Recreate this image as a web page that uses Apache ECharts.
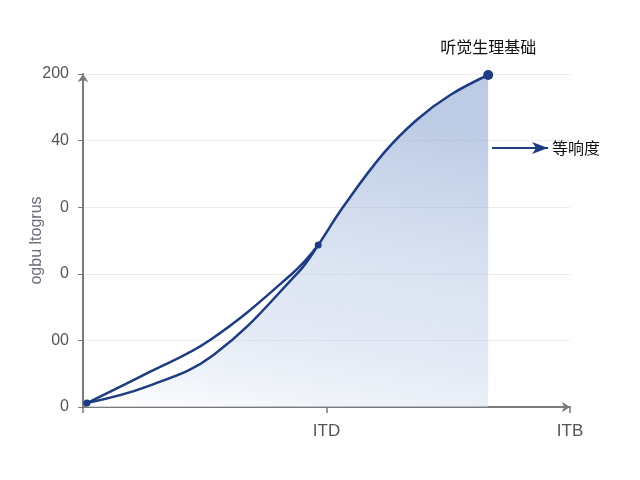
<!DOCTYPE html>
<html>
<head>
<meta charset="utf-8">
<script src="https://cdn.jsdelivr.net/npm/echarts@6/dist/echarts.min.js"></script>
<style>
  html, body { margin: 0; padding: 0; background: #fff; }
  #main { width: 640px; height: 480px; }
</style>
</head>
<body>
<div id="main"></div>
<script>
// data (x: 0..100 with ITD = 50, ITB = 100)
const yTickLabels = { 0: '0', 40: '00', 80: '0', 120: '0', 160: '40', 200: '200' };
const xTickLabels = { 50: 'ITD', 100: 'ITB' };
const yName = 'ogbu ltogrus';
const topLabel = '听觉生理基础';
const arrowLabel = '等响度';
const arrowY = 155.6;
const arrowX = [84, 95.5];

// lower branch + main rise (filled)
const mainCurve = [
  [0.8, 2.4], [13.1, 12.2], [26.8, 31.2], [44.1, 80.5], [48.3, 97.3],
  [53.4, 120.1], [61.7, 152.3], [68.5, 172.4], [75.4, 187.4], [83.2, 199.4]
];
// upper branch, origin to ITD marker
const upperCurve = [
  [0.8, 2.4], [13.1, 20.2], [26.1, 40.2], [43.1, 80.5], [48.3, 97.3]
];
const midIndex = 4;

const navy = '#1d3c82';
const chart = echarts.init(document.getElementById('main'));

chart.setOption({
  animation: false,
  grid: { left: 83, right: 70, top: 74, bottom: 73 },
  xAxis: {
    type: 'value',
    min: 0,
    max: 100,
    interval: 50,
    axisLine: { lineStyle: { color: '#7a7a7a', width: 2 }, symbol: ['none', 'arrow'], symbolSize: [8, 8] },
    axisTick: { show: true, length: 6, lineStyle: { color: '#7a7a7a', width: 1.5 } },
    axisLabel: {
      margin: 16,
      color: '#555',
      fontSize: 17,
      fontFamily: 'Liberation Sans',
      formatter: v => xTickLabels[v] || ''
    },
    splitLine: { show: false }
  },
  yAxis: {
    type: 'value',
    min: 0,
    max: 200,
    interval: 40,
    name: yName,
    nameLocation: 'middle',
    nameGap: 38,
    nameMoveOverlap: false,
    nameRotate: 90,
    nameTextStyle: { color: '#6a6a7a', fontSize: 16, fontFamily: 'Liberation Sans' },
    axisLine: { show: true, lineStyle: { color: '#7a7a7a', width: 2 }, symbol: ['none', 'arrow'], symbolSize: [8, 8] },
    axisTick: { show: true, length: 5, lineStyle: { color: '#7a7a7a' } },
    axisLabel: {
      margin: 14,
      color: '#555',
      fontSize: 16,
      fontFamily: 'Liberation Sans',
      formatter: v => yTickLabels[v] !== undefined ? yTickLabels[v] : ''
    },
    splitLine: { lineStyle: { color: '#ececec', width: 1 } }
  },
  series: [
    {
      type: 'line',
      smooth: 0.4,
      data: mainCurve.map((p, i) => {
        if (i === mainCurve.length - 1) {
          return {
            value: p,
            symbol: 'circle',
            symbolSize: 10,
            label: {
              show: true,
              position: 'top',
              distance: 15,
              formatter: topLabel,
              color: '#111',
              fontSize: 16,
              fontFamily: 'Noto Sans CJK SC'
            }
          };
        }
        if (i === 0 || i === midIndex) return { value: p, symbol: 'circle', symbolSize: 7 };
        return { value: p, symbol: 'none' };
      }),
      lineStyle: { color: navy, width: 2.5 },
      itemStyle: { color: navy },
      areaStyle: {
        color: new echarts.graphic.LinearGradient(0.15, 0, 0, 1, [
          { offset: 0, color: 'rgba(138,163,208,0.8)' },
          { offset: 0.5, color: 'rgba(170,190,225,0.55)' },
          { offset: 1, color: 'rgba(255,255,255,1)' }
        ])
      },
      markLine: {
        silent: true,
        symbol: ['none', 'arrow'],
        symbolSize: [9, 16],
        lineStyle: { color: navy, width: 1.8, type: 'solid' },
        label: {
          show: true,
          position: 'end',
          formatter: arrowLabel,
          color: '#111',
          fontSize: 16,
          fontFamily: 'Noto Sans CJK SC',
          distance: 4
        },
        data: [[{ coord: [arrowX[0], arrowY] }, { coord: [arrowX[1], arrowY] }]]
      },
      z: 3
    },
    {
      type: 'line',
      smooth: 0.4,
      symbol: 'none',
      data: upperCurve,
      lineStyle: { color: navy, width: 2.5 },
      z: 4
    }
  ]
});
</script>
</body>
</html>
